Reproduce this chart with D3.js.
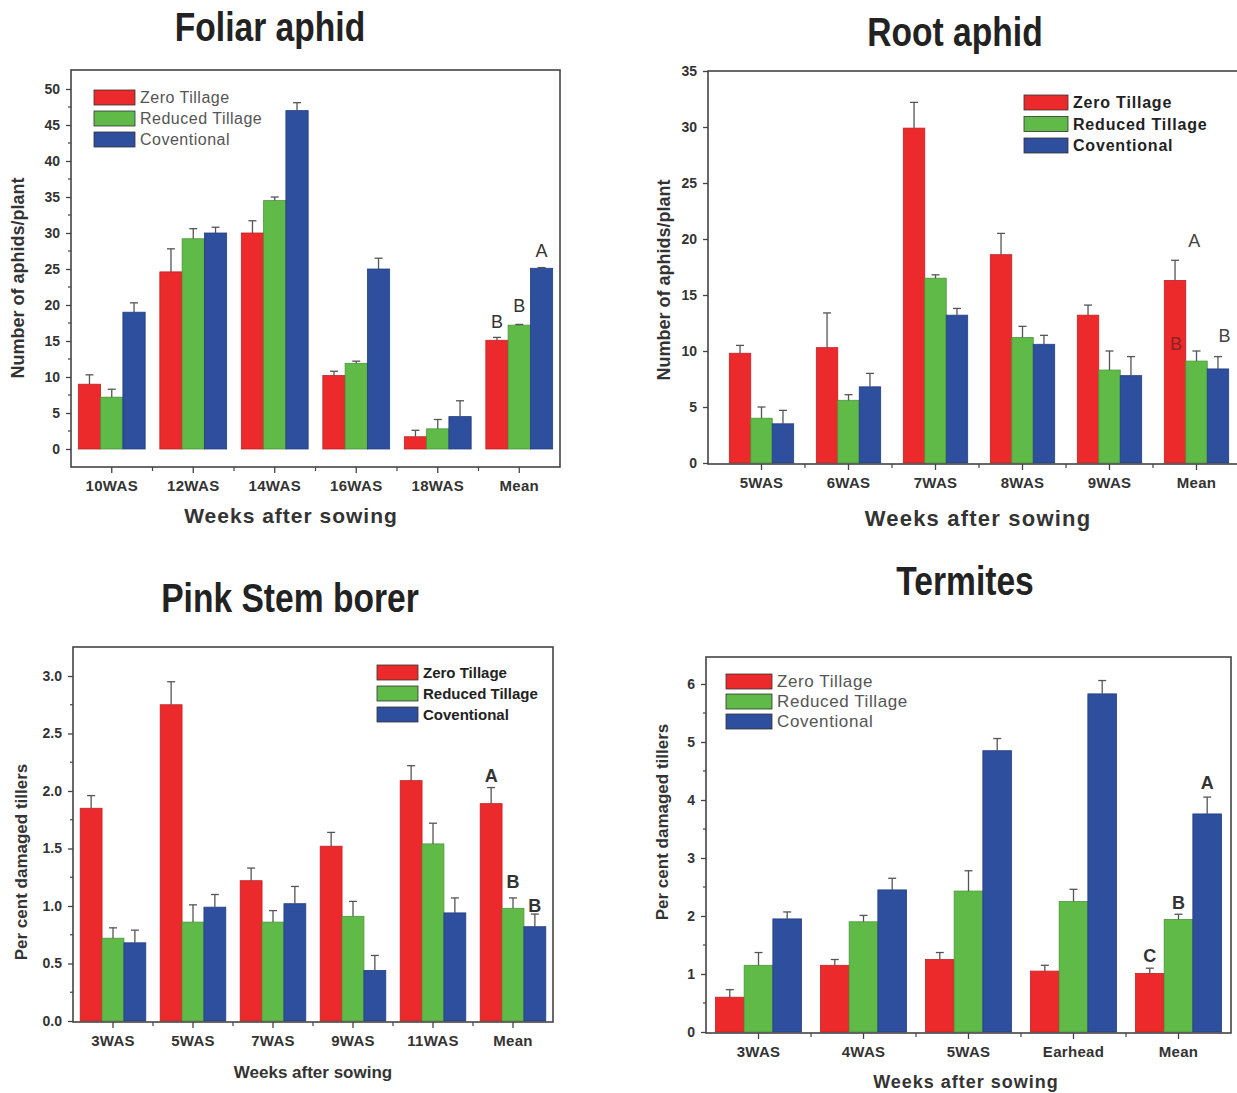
<!DOCTYPE html>
<html>
<head>
<meta charset="utf-8">
<script src="https://cdn.jsdelivr.net/npm/d3@7"></script>
<style>
  body { margin: 0; background: #fff; }
  svg text { font-family: "Liberation Sans", Arial, sans-serif; }
</style>
</head>
<body>
<div id="vis"></div>
<script>
// series names, shared by all four panels
const seriesNames = ['Zero Tillage', 'Reduced Tillage', 'Coventional']
const seriesColors = ['#ec2a2c', '#5fba48', '#2e4e9e']

// Foliar aphid
const foliarCats = ['10WAS', '12WAS', '14WAS', '16WAS', '18WAS', 'Mean']
const foliarZero = [9.0, 24.6, 30.0, 10.2, 1.7, 15.1]
const foliarReduced = [7.2, 29.2, 34.5, 11.9, 2.8, 17.2]
const foliarConv = [19.0, 30.0, 47.0, 25.0, 4.5, 25.1]
const foliarErrZero = [1.3, 3.2, 1.7, 0.6, 0.9, 0.4]
const foliarErrReduced = [1.1, 1.4, 0.5, 0.3, 1.3, 0.1]
const foliarErrConv = [1.3, 0.8, 1.1, 1.5, 2.2, 0.1]
const foliarLetters = [['B', 0, 16.8], ['B', 1, 19.0], ['A', 2, 26.6]]

// Root aphid
const rootCats = ['5WAS', '6WAS', '7WAS', '8WAS', '9WAS', 'Mean']
const rootZero = [9.8, 10.3, 29.9, 18.6, 13.2, 16.3]
const rootReduced = [4.0, 5.6, 16.5, 11.2, 8.3, 9.1]
const rootConv = [3.5, 6.8, 13.2, 10.6, 7.8, 8.4]
const rootErrZero = [0.7, 3.1, 2.3, 1.9, 0.9, 1.8]
const rootErrReduced = [1.0, 0.5, 0.3, 1.0, 1.7, 0.9]
const rootErrConv = [1.2, 1.2, 0.6, 0.8, 1.7, 1.1]
const rootLetters = [['A', 0.9, 19.3], ['B', 0.05, 10.1], ['B', 2.3, 10.8]]

// Pink stem borer
const borerCats = ['3WAS', '5WAS', '7WAS', '9WAS', '11WAS', 'Mean']
const borerZero = [1.85, 2.75, 1.22, 1.52, 2.09, 1.89]
const borerReduced = [0.72, 0.86, 0.86, 0.91, 1.54, 0.98]
const borerConv = [0.68, 0.99, 1.02, 0.44, 0.94, 0.82]
const borerErrZero = [0.11, 0.20, 0.11, 0.12, 0.13, 0.14]
const borerErrReduced = [0.09, 0.15, 0.10, 0.13, 0.18, 0.09]
const borerErrConv = [0.11, 0.11, 0.15, 0.13, 0.13, 0.11]
const borerLetters = [['A', 0, 2.08], ['B', 1, 1.16], ['B', 2, 0.95]]

// Termites
const termiteCats = ['3WAS', '4WAS', '5WAS', 'Earhead', 'Mean']
const termiteZero = [0.60, 1.15, 1.25, 1.05, 1.01]
const termiteReduced = [1.15, 1.90, 2.43, 2.25, 1.94]
const termiteConv = [1.95, 2.45, 4.85, 5.83, 3.76]
const termiteErrZero = [0.13, 0.10, 0.12, 0.10, 0.09]
const termiteErrReduced = [0.22, 0.11, 0.35, 0.21, 0.09]
const termiteErrConv = [0.12, 0.20, 0.21, 0.23, 0.29]
const termiteLetters = [['C', 0, 1.21], ['B', 1, 2.12], ['A', 2, 4.19]]

const svg = d3.select('#vis').append('svg')
    .attr('width', 1237)
    .attr('height', 1093)

const panels = [
  {
    title: 'Foliar aphid', tx: 270, ty: 41,
    cats: foliarCats, vals: [foliarZero, foliarReduced, foliarConv],
    errs: [foliarErrZero, foliarErrReduced, foliarErrConv], letters: foliarLetters, letterBold: false,
    l: 71, r: 560, bl: 71, br: 560, t: 70, b: 467, y0: 449, yTop: 89, vTop: 50,
    ticks: d3.range(0, 51, 5), minor: d3.range(2.5, 50, 5), fmt: d3.format('d'),
    pad: 0.18, yLabel: 'Number of aphids/plant', ylx: 24, yly: 278, ylSize: 18,
    xTitleX: 291, xTitleY: 523, xTitleSize: 21, xTitleSpace: 1,
    legX: 94, legY: 90, legStep: 21, legBold: false, legSize: 16, legSpace: 0.5, legW: 41,
    letterColors: ['#333', '#333', '#333']
  },
  {
    title: 'Root aphid', tx: 955, ty: 46,
    cats: rootCats, vals: [rootZero, rootReduced, rootConv],
    errs: [rootErrZero, rootErrReduced, rootErrConv], letters: rootLetters, letterBold: false,
    l: 708, r: 1252, bl: 718, br: 1240, t: 71, b: 464, y0: 463, yTop: 71, vTop: 35,
    ticks: d3.range(0, 36, 5), minor: [], fmt: d3.format('d'),
    pad: 0.26, yLabel: 'Number of aphids/plant', ylx: 670, yly: 280, ylSize: 18,
    xTitleX: 978, xTitleY: 526, xTitleSize: 22, xTitleSpace: 1.2,
    legX: 1024, legY: 95, legStep: 21.5, legBold: true, legSize: 16, legSpace: 0.8, legW: 44,
    letterColors: ['#444', '#8e2222', '#444']
  },
  {
    title: 'Pink Stem borer', tx: 290, ty: 612,
    cats: borerCats, vals: [borerZero, borerReduced, borerConv],
    errs: [borerErrZero, borerErrReduced, borerErrConv], letters: borerLetters, letterBold: true,
    l: 73, r: 553, bl: 73, br: 553, t: 647, b: 1022, y0: 1021, yTop: 676, vTop: 3.0,
    ticks: d3.range(0, 3.01, 0.5), minor: d3.range(0.25, 3.2, 0.5), fmt: d3.format('.1f'),
    pad: 0.18, yLabel: 'Per cent damaged tillers', ylx: 27, yly: 862, ylSize: 17,
    xTitleX: 313, xTitleY: 1078, xTitleSize: 17, xTitleSpace: 0,
    legX: 377, legY: 665, legStep: 21, legBold: true, legSize: 15, legSpace: 0, legW: 41,
    letterColors: ['#333', '#333', '#333']
  },
  {
    title: 'Termites', tx: 965, ty: 595,
    cats: termiteCats, vals: [termiteZero, termiteReduced, termiteConv],
    errs: [termiteErrZero, termiteErrReduced, termiteErrConv], letters: termiteLetters, letterBold: true,
    l: 706, r: 1231, bl: 706, br: 1231, t: 657, b: 1033, y0: 1032, yTop: 684, vTop: 6,
    ticks: d3.range(0, 7, 1), minor: d3.range(0.5, 6.5, 1), fmt: d3.format('d'),
    pad: 0.18, yLabel: 'Per cent damaged tillers', ylx: 668, yly: 822, ylSize: 17,
    xTitleX: 966, xTitleY: 1088, xTitleSize: 18, xTitleSpace: 1,
    legX: 726, legY: 674, legStep: 20, legBold: false, legSize: 17, legSpace: 0.6, legW: 46,
    letterColors: ['#333', '#333', '#333']
  }
]

panels.forEach(drawPanel)

function drawPanel(p){
    let g = svg.append('g')

    // y scale: value -> pixel, derived from two reference ticks
    let y = d3.scaleLinear([0, p.vTop], [p.y0, p.yTop])
    let x = d3.scaleBand(p.cats, [p.bl, p.br]).paddingInner(p.pad).paddingOuter(p.pad / 2)
    let xs = d3.scaleBand(d3.range(3), [0, x.bandwidth()])

    // title, condensed bold
    g.append('text')
        .attr('transform', `translate(${p.tx},${p.ty}) scale(0.84,1)`)
        .attr('text-anchor', 'middle')
        .style('font-weight', 'bold')
        .style('font-size', '40px')
        .attr('fill', '#222')
        .text(p.title)

    // bars with a thin darker edge
    p.vals.forEach((vals, s) => {
        g.selectAll('.bar' + s)
            .data(vals)
            .enter()
            .append('rect')
                .attr('x', (d, i) => x(p.cats[i]) + xs(s))
                .attr('width', xs.bandwidth())
                .attr('y', d => y(d))
                .attr('height', d => y(0) - y(d))
                .attr('fill', seriesColors[s])
                .attr('stroke', d3.color(seriesColors[s]).darker(0.6))
                .attr('stroke-width', 0.8)
    })

    // upper error bars with cap
    p.vals.forEach((vals, s) => {
        vals.forEach((v, i) => {
            let cx = x(p.cats[i]) + xs(s) + xs.bandwidth() / 2
            let top = y(v + p.errs[s][i])
            g.append('line')
                .attr('x1', cx).attr('x2', cx)
                .attr('y1', y(v)).attr('y2', top)
                .attr('stroke', '#555').attr('stroke-width', 1.3)
            g.append('line')
                .attr('x1', cx - 4).attr('x2', cx + 4)
                .attr('y1', top).attr('y2', top)
                .attr('stroke', '#555').attr('stroke-width', 1.3)
        })
    })

    // significance letters on the last group
    let last = p.cats[p.cats.length - 1]
    p.letters.forEach((L, k) => {
        g.append('text')
            .attr('x', x(last) + xs.bandwidth() * L[1] + xs.bandwidth() / 2)
            .attr('y', y(L[2]))
            .attr('text-anchor', 'middle')
            .style('font-size', '18px')
            .style('font-weight', p.letterBold ? 'bold' : 'normal')
            .attr('fill', p.letterColors[k])
            .text(L[0])
    })

    // frame
    g.append('rect')
        .attr('x', p.l).attr('y', p.t)
        .attr('width', p.r - p.l).attr('height', p.b - p.t)
        .attr('fill', 'none')
        .attr('stroke', '#444').attr('stroke-width', 1.6)

    // y axis
    let yAxis = g.append('g')
        .attr('transform', `translate(${p.l},0)`)
        .call(d3.axisLeft(y).tickValues(p.ticks).tickFormat(p.fmt).tickSize(5).tickPadding(6))
    yAxis.select('.domain').remove()
    yAxis.selectAll('line').attr('stroke', '#444').attr('stroke-width', 1.3)
    yAxis.selectAll('text')
        .style('font-size', '14px').style('font-weight', 'bold')
        .style('font-family', '"Liberation Sans", Arial, sans-serif')
        .attr('fill', '#333')
    g.selectAll('.minor-y')
        .data(p.minor)
        .enter()
        .append('line')
            .attr('x1', p.l - 3).attr('x2', p.l)
            .attr('y1', d => y(d)).attr('y2', d => y(d))
            .attr('stroke', '#444').attr('stroke-width', 1.2)

    // x axis: major ticks at category centres, minor ticks between groups
    let xAxis = g.append('g')
        .attr('transform', `translate(0,${p.b})`)
        .call(d3.axisBottom(x).tickSize(6).tickPadding(7))
    xAxis.select('.domain').remove()
    xAxis.selectAll('line').attr('stroke', '#444').attr('stroke-width', 1.3)
    xAxis.selectAll('text')
        .style('font-size', '15px').style('font-weight', 'bold')
        .style('letter-spacing', '0.3px')
        .style('font-family', '"Liberation Sans", Arial, sans-serif')
        .attr('fill', '#333')
    let step = x.step()
    g.selectAll('.minor-x')
        .data(p.cats.slice(1))
        .enter()
        .append('line')
            .attr('x1', d => x(d) - step * p.pad / 2).attr('x2', d => x(d) - step * p.pad / 2)
            .attr('y1', p.b).attr('y2', p.b + 4)
            .attr('stroke', '#444').attr('stroke-width', 1.2)

    // axis titles
    g.append('text')
        .attr('transform', `translate(${p.ylx},${p.yly}) rotate(-90)`)
        .attr('text-anchor', 'middle')
        .style('font-size', p.ylSize + 'px').style('font-weight', 'bold')
        .attr('fill', '#333')
        .text(p.yLabel)

    g.append('text')
        .attr('x', p.xTitleX).attr('y', p.xTitleY)
        .attr('text-anchor', 'middle')
        .style('font-size', p.xTitleSize + 'px').style('font-weight', 'bold')
        .style('letter-spacing', p.xTitleSpace + 'px')
        .attr('fill', '#333')
        .text('Weeks after sowing')

    // legend
    seriesNames.forEach((name, s) => {
        g.append('rect')
            .attr('x', p.legX).attr('y', p.legY + s * p.legStep)
            .attr('width', p.legW).attr('height', 15)
            .attr('fill', seriesColors[s])
            .attr('stroke', '#333').attr('stroke-width', 0.8)
        g.append('text')
            .attr('x', p.legX + p.legW + 5).attr('y', p.legY + s * p.legStep + 13)
            .style('font-size', p.legSize + 'px')
            .style('font-weight', p.legBold ? 'bold' : 'normal')
            .style('letter-spacing', p.legSpace + 'px')
            .attr('fill', p.legBold ? '#222' : '#555')
            .text(name)
    })
}
</script>
</body>
</html>
